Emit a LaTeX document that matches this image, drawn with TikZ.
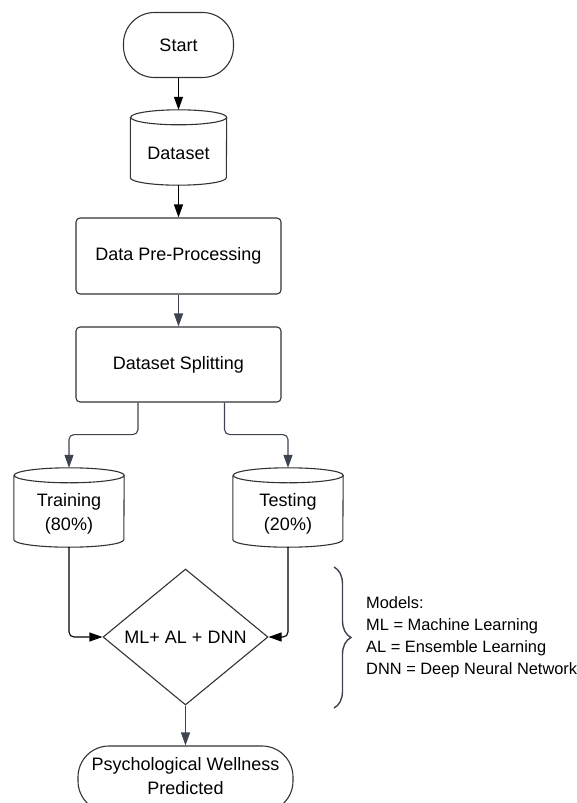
\documentclass[tikz,border=0pt]{standalone}
\usepackage{fontspec}
\setmainfont{Liberation Sans}
\usetikzlibrary{shapes.geometric,arrows.meta,decorations.pathreplacing,calc}
\definecolor{edgecol}{HTML}{333333}
\definecolor{conncol}{HTML}{3D4450}
\newcommand\fsmain{\fontsize{18}{24}\selectfont}
\newcommand\fslegend{\fontsize{16.4}{22}\selectfont}
\newcommand\drawcyl[2]{%
  \draw[shp] ([yshift=-7.5pt]#1.north west) -- ([yshift=7.5pt]#1.south west)
    arc[start angle=180,end angle=360,x radius=#2,y radius=7.5pt]
    -- ([yshift=-7.5pt]#1.north east)
    arc[start angle=0,end angle=360,x radius=#2,y radius=7.5pt];}
\begin{document}
\begin{tikzpicture}[x=1pt,y=-1pt,
  shp/.style={draw=edgecol, line width=1.1pt},
  txt/.style={font=\fsmain, inner sep=0pt, align=center},
  procbox/.style={shp, rectangle, rounded corners=4pt, minimum width=205pt, minimum height=76pt, font=\fsmain, inner sep=0pt},
  termbox/.style={shp, rectangle, rounded corners=31pt, inner sep=0pt, font=\fsmain, align=center},
  cylbox/.style={rectangle, draw=none, inner sep=0pt},
  arrB/.style={-{Triangle[length=13pt,width=9pt]}, line width=1.1pt, draw=black},
  arrG/.style={-{Triangle[length=13pt,width=9pt]}, line width=1.1pt, draw=conncol}
]
\useasboundingbox (0,0) rectangle (576,803);
\clip (0,0) rectangle (576,803);

% Start
\node[termbox, minimum width=110pt, minimum height=65pt] (start) at (178.5,45) {Start};

% Dataset cylinder
\node[cylbox, minimum width=96pt, minimum height=75pt] (ds) at (178.5,147.5) {};
\drawcyl{ds}{48pt}
\node[txt] (dsT) at (178.5,153) {Dataset};

% Process boxes
\node[procbox] (pre) at (178.5,256) {Data Pre-Processing};
\node[procbox, minimum height=75pt] (spl) at (178.5,364.5) {Dataset Splitting};

% Training / Testing cylinders
\node[cylbox, minimum width=110pt, minimum height=79pt] (trn) at (69,507.5) {};
\drawcyl{trn}{55pt}
\node[txt] (trnT) at (69,514) {Training\\(80\%)};
\node[cylbox, minimum width=110pt, minimum height=79pt] (tst) at (288,507.5) {};
\drawcyl{tst}{55pt}
\node[txt] (tstT) at (288,514) {Testing\\(20\%)};

% Diamond
\node[shp, diamond, aspect=1.2, inner sep=0pt, minimum width=165pt, minimum height=136pt, font=\fsmain] (dia) at (185.5,637) {ML+ AL + DNN};

% Final terminal
\node[termbox, minimum width=215pt, minimum height=66pt] (fin) at (185.5,779) {};
\node[txt] (finT) at (185.5,776) {Psychological Wellness\\Predicted};

% Connectors
\draw[arrB] (start.south) -- (ds.north);
\draw[arrB] (ds.south) -- (pre.north);
\draw[arrG] (pre.south) -- (spl.north);
\draw[arrG, rounded corners=5pt] ([xshift=-40.5pt]spl.south) -- ++(0,32) -| (trn.north);
\draw[arrG, rounded corners=5pt] ([xshift=46pt]spl.south) -- ++(0,32) -| (tst.north);
\draw[arrB, rounded corners=5pt] (trn.south) |- (dia.west);
\draw[arrB, rounded corners=5pt] (tst.south) |- (dia.east);
\draw[arrG] (dia.south) -- (fin.north);

% Brace and legend
\coordinate (bt) at (334,567);
\coordinate (bb) at (334,708);
\draw[conncol, line width=1.4pt, decorate, decoration={brace, amplitude=17pt}] (bt) -- (bb);
\node[font=\fslegend, inner sep=0pt, anchor=west, align=left] (leg) at (366,637)
  {Models:\\ML = Machine Learning\\AL = Ensemble Learning\\DNN = Deep Neural Network};
\end{tikzpicture}
\end{document}
